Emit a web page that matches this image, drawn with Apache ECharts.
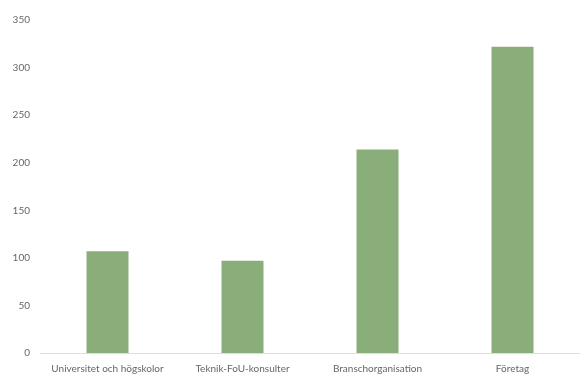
<!DOCTYPE html>
<html><head><meta charset="utf-8">
<script src="https://cdn.jsdelivr.net/npm/echarts@6/dist/echarts.min.js"></script>
<style>html,body{margin:0;padding:0;background:#fff}#c{width:584px;height:376px}</style>
</head><body><div id="c"></div>
<script>
const categories = ["Universitet och högskolor", "Teknik-FoU-konsulter", "Branschorganisation", "Företag"];
const values = [107, 97, 214, 322];
const yMin = 0, yMax = 350, yInterval = 50;

const chart = echarts.init(document.getElementById('c'));
chart.setOption({
  animation: false,
  grid: {left: 40, right: 4, top: 20, bottom: 23},
  xAxis: {
    type: 'category', data: categories,
    axisLine: {lineStyle: {color: '#dedede', width: 1}},
    axisTick: {show: false},
    axisLabel: {color: '#666666', fontFamily: 'Lato', fontSize: 10, margin: 11, interval: 0}
  },
  yAxis: {
    type: 'value', min: yMin, max: yMax, interval: yInterval,
    axisLine: {show: false}, axisTick: {show: false},
    splitLine: {show: false},
    axisLabel: {color: '#666666', fontFamily: 'Lato', fontSize: 10, margin: 10}
  },
  series: [{
    type: 'bar', data: values, barWidth: 42,
    itemStyle: {color: '#8aae7a'}
  }]
});
</script></body></html>
